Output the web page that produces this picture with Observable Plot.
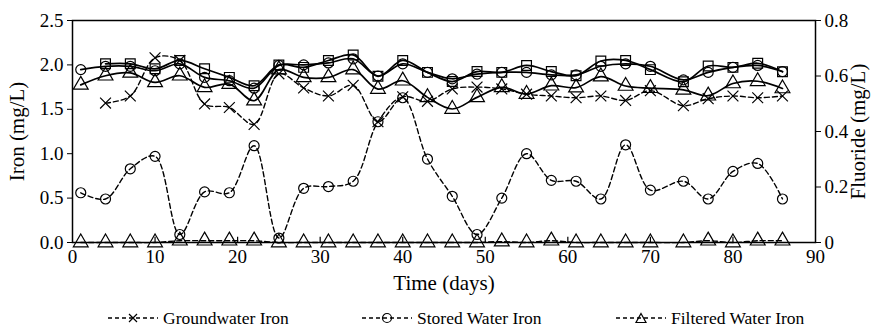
<!DOCTYPE html>
<html><head><meta charset="utf-8">
<script src="https://cdn.jsdelivr.net/npm/d3@7"></script>
<script src="https://cdn.jsdelivr.net/npm/@observablehq/plot@0.6"></script>
<style>
body{margin:0;background:#fff;font-family:"Liberation Serif","Times New Roman","DejaVu Serif",serif;}
#wrap{position:relative;width:874px;height:327px;overflow:hidden;}
#wrap svg text{font-family:"Liberation Serif","Times New Roman","DejaVu Serif",serif;}
.leg{position:absolute;top:309px;display:flex;align-items:center;font-size:17.5px;color:#000;white-space:nowrap;line-height:18px;font-family:"Liberation Serif","Times New Roman","DejaVu Serif",serif;}
.leg svg{margin-right:5px;}
</style></head><body><div id="wrap"></div>
<script>
const days = [1,4,7,10,13,16,19,22,25,28,31,34,37,40,43,46,49,52,55,58,61,64,67,70,74,77,80,83,86];
const groundwaterIron = [null,1.57,1.65,2.08,2.05,1.56,1.52,1.33,1.90,1.74,1.65,1.77,1.36,1.64,1.59,1.73,1.75,1.73,1.67,1.65,1.63,1.65,1.60,1.71,1.54,1.62,1.65,1.63,1.65];
const storedIron = [0.56,0.49,0.83,0.97,0.09,0.57,0.56,1.09,0.05,0.61,0.63,0.69,1.36,1.63,0.94,0.52,0.09,0.50,1.00,0.70,0.69,0.49,1.10,0.59,0.69,0.49,0.80,0.89,0.49];
const filteredIron = [0,0,0,0,0.02,0.02,0.02,0.02,0,0,0,0,0,0,0,0,0,0.01,0,0.02,0,0,0,0,0,0.02,0,0.02,0.02];
const groundwaterFluoride = [null,0.644,0.644,0.626,0.656,0.626,0.595,0.565,0.640,0.631,0.656,0.676,0.599,0.656,0.613,0.580,0.616,0.613,0.638,0.616,0.601,0.654,0.656,0.623,0.579,0.636,0.631,0.646,0.615];
const storedFluoride = [0.623,0.635,0.635,0.619,0.644,0.595,0.583,0.556,0.638,0.640,0.647,0.662,0.600,0.644,0.613,0.590,0.607,0.613,0.613,0.604,0.604,0.635,0.644,0.635,0.586,0.613,0.631,0.638,0.616];
const filteredFluoride = [0.568,0.601,0.611,0.577,0.601,0.559,0.571,0.511,0.623,0.595,0.595,0.623,0.553,0.583,0.523,0.481,0.523,0.559,0.535,0.565,0.558,0.598,0.564,0.556,0.550,0.529,0.573,0.581,0.555];
const xTicks = [0,10,20,30,40,50,60,70,80,90];
const ironTicks = [0,0.5,1.0,1.5,2.0,2.5];
const fluorideTicks = [0,0.2,0.4,0.6,0.8];
const legendLabels = ["Groundwater Iron","Stored Water Iron","Filtered Water Iron"];

const k = 2.5/0.8; // fluoride -> iron axis
const rows = days.map((d,i)=>({day:d,gwFe:groundwaterIron[i],stFe:storedIron[i],fiFe:filteredIron[i],
  gwF:groundwaterFluoride[i]==null?null:groundwaterFluoride[i]*k, stF:storedFluoride[i]*k, fiF:filteredFluoride[i]*k}));

const dashed = {stroke:"black", strokeWidth:1.4, strokeDasharray:"5,3", curve:"catmull-rom"};
const solid = {stroke:"black", strokeWidth:1.7, curve:"catmull-rom"};
const dotOpt = (sym, r) => ({symbol:sym, r:r, stroke:"black", strokeWidth:1.2, fill:"none"});

function series(key, lineOpt, sym, r){
  return [
    Plot.line(rows, {x:"day", y:key, ...lineOpt}),
    Plot.dot(rows.filter(d=>d[key]!=null), {x:"day", y:key, ...dotOpt(sym, r)})
  ];
}

const serif = "Liberation Serif, Times New Roman, DejaVu Serif, serif";
const chart = Plot.plot({
  width:874, height:304,
  marginLeft:72, marginRight:59, marginTop:20, marginBottom:62,
  style:{fontFamily:serif, fontSize:"19px", color:"black", background:"white", overflow:"visible"},
  x:{domain:[0,90]},
  y:{domain:[0,2.5]},
  marks:[
    Plot.frame({stroke:"black", strokeWidth:1.5}),
    Plot.axisY(ironTicks, {anchor:"left", tickSize:5, tickPadding:4, tickFormat:d=>d.toFixed(1), label:null, fontFamily:serif}),
    Plot.axisY(fluorideTicks, {anchor:"right", y:d=>d*k, tickSize:5, tickPadding:4, tickFormat:d=>d===0?"0":d.toFixed(1), label:null, fontFamily:serif}),
    Plot.axisX(xTicks, {anchor:"bottom", tickSize:0, tickPadding:7, label:null, fontFamily:serif}),
    Plot.ruleX(xTicks.slice(1,-1), {x:d=>d, y1:0, y2:0.06, stroke:"black", strokeWidth:1.2}),
    ...series("fiF", solid, "triangle", 5.5),
    ...series("stF", solid, "circle", 5),
    ...series("gwF", solid, "square", 5.5),
    ...series("fiFe", dashed, "triangle", 5.5),
    ...series("stFe", dashed, "circle", 5),
    ...series("gwFe", dashed, "times", 5),
    Plot.text(["Iron (mg/L)"], {frameAnchor:"left", dx:-55, rotate:-90, textAnchor:"middle", lineAnchor:"middle", fontSize:21, fontFamily:serif}),
    Plot.text(["Fluoride (mg/L)"], {frameAnchor:"right", dx:43, rotate:-90, textAnchor:"middle", lineAnchor:"middle", fontSize:21, fontFamily:serif}),
    Plot.text(["Time (days)"], {frameAnchor:"bottom", dy:41, textAnchor:"middle", lineAnchor:"middle", fontSize:21, fontFamily:serif})
  ]
});
const wrap = document.getElementById("wrap");
wrap.appendChild(chart);

const symPaths = {
  times:'<path d="M21,2 L29,10 M29,2 L21,10" stroke="black" stroke-width="1.2" fill="none"/>',
  circle:'<circle cx="25" cy="6" r="4.5" stroke="black" stroke-width="1.2" fill="none"/>',
  triangle:'<path d="M25,1.5 L30,10.5 L20,10.5 Z" stroke="black" stroke-width="1.2" fill="none"/>'
};
const legSyms = ["times","circle","triangle"];
const legLeft = [108,362,616];
legendLabels.forEach((lab,i)=>{
  const div = document.createElement("div");
  div.className = "leg";
  div.style.left = legLeft[i]+"px";
  div.innerHTML = `<svg width="50" height="12"><line x1="0" y1="6" x2="50" y2="6" stroke="black" stroke-width="1.3" stroke-dasharray="4,3"/>${symPaths[legSyms[i]]}</svg><span>${lab}</span>`;
  wrap.appendChild(div);
});
</script></body></html>
